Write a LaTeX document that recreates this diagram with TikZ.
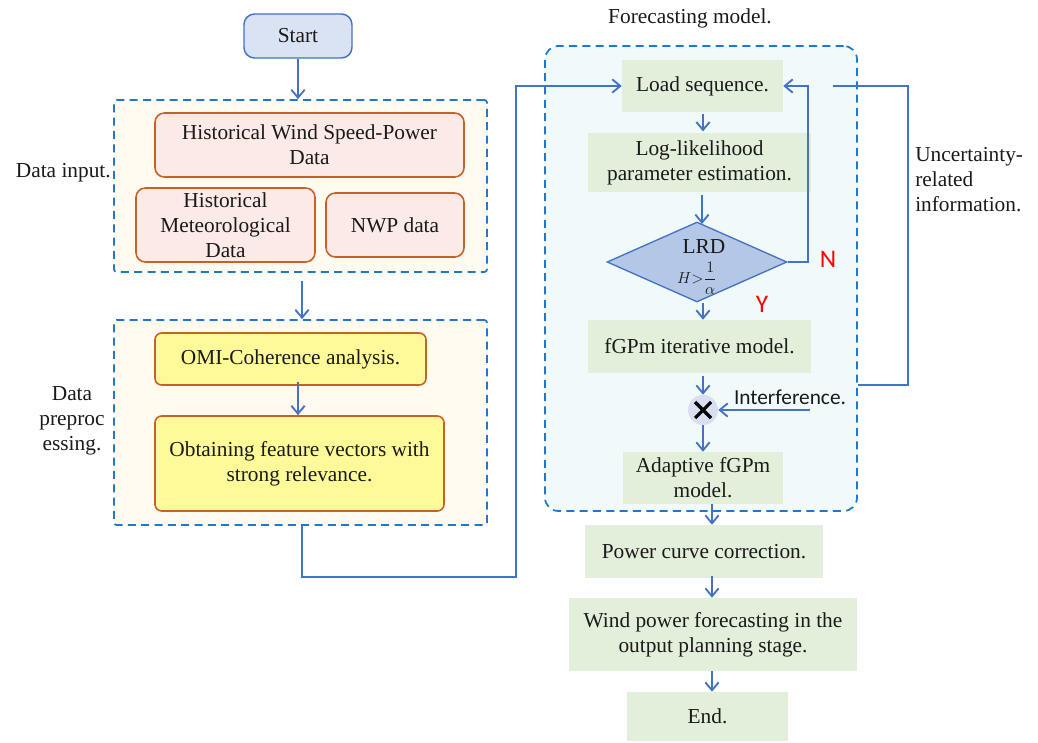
\documentclass[tikz,border=0pt]{standalone}
\usepackage{fontspec}
\setmainfont{Liberation Serif}
\newfontfamily\calfont{Carlito}
\usetikzlibrary{arrows.meta,shapes.geometric,calc}
\definecolor{dashblue}{HTML}{1F77D0}
\definecolor{arrblue}{HTML}{4472C4}
\definecolor{cream}{HTML}{FFFBF1}
\definecolor{paleCyan}{HTML}{F1FAFA}
\definecolor{pinkfill}{HTML}{FBEAE5}
\definecolor{brownedge}{HTML}{C5622A}
\definecolor{yellowfill}{HTML}{FFFA99}
\definecolor{greenfill}{HTML}{E2EFDA}
\definecolor{startfill}{HTML}{DAE3F3}
\definecolor{diafill}{HTML}{B4C7E7}
\definecolor{circfill}{HTML}{D9DFF2}
\definecolor{txt}{HTML}{1A1A1A}
\newcommand\mainsize{\fontsize{16}{18.8}\selectfont}
\begin{document}
\begin{tikzpicture}[x=0.75pt,y=-0.75pt,
  sz/.style 2 args={minimum width=#1*0.75pt, minimum height=#2*0.75pt},
  base/.style={inner sep=0pt, align=center, font=\mainsize, text=txt},
  group/.style={base, draw=dashblue, line width=1.3pt, dash pattern=on 6pt off 4pt},
  inbox/.style={base, rounded corners=7pt, draw=brownedge, line width=1.2pt, fill=pinkfill},
  yelbox/.style={base, rounded corners=5pt, draw=brownedge, line width=1.2pt, fill=yellowfill},
  grbox/.style={base, fill=greenfill},
  arr/.style={draw=arrblue, line width=1.5pt, -{Straight Barb[length=6pt,width=10pt,line width=1.4pt]}},
  link/.style={draw=arrblue, line width=1.5pt},
  side/.style={base, font=\mainsize},
  yesno/.style={font=\calfont\fontsize{19}{22}\selectfont, text=red, inner sep=0pt}
]
\useasboundingbox (0,0) rectangle (1038,742);

% ---- group frames ----
\node[group, rounded corners=2pt, fill=cream, sz={373}{172}] (din) at (300.5,186) {};
\node[group, rounded corners=2pt, fill=cream, sz={373}{205}] (dpre) at (300.5,422.5) {};
\node[group, rounded corners=10pt, fill=paleCyan, sz={312}{465}] (fm) at (701,278.5) {};

% ---- left column ----
\node[base, rounded corners=8pt, draw=arrblue, line width=1.1pt, fill=startfill, sz={108}{44}] (start) at (298,36) {Start};
\node[inbox, sz={309}{64}] (hw) at (309.5,145) {Historical Wind Speed-Power\\Data};
\node[inbox, sz={179}{74}] (hm) at (225.5,225) {Historical\\Meteorological\\Data};
\node[inbox, sz={138}{64}] (nwp) at (395,225) {NWP data};
\node[yelbox, sz={271}{52}] (omi) at (290.5,359) {OMI-Coherence analysis.};
\node[yelbox, sz={289}{95}] (obt) at (299.5,463.5) {Obtaining feature vectors with\\strong relevance.};

\node[side, anchor=east] (lin) at (111,173) {Data input.};
\node[side] (lpre) at (72,421) {Data\\preproc\\essing.};

% ---- forecasting model ----
\node[side] (lfm) at (690,18) {Forecasting model.};
\node[grbox, sz={161}{52}] (load) at (702.5,86) {Load sequence.};
\node[grbox, sz={223}{59}] (loglik) at (699.5,162.5) {Log-likelihood\\parameter estimation.};
\node[diamond, draw=arrblue, line width=1pt, fill=diafill, inner sep=0pt, sz={180}{80}] (lrd) at (697,262) {};
\node[base] (lrdt) at (704,247) {LRD};
\node[base, font=\fontsize{12.5}{14}\selectfont] (lrdh) at (697,278.5) {$H{>}\displaystyle\frac{1}{\alpha}$};
\node[grbox, sz={223}{53}] (fgpm) at (699.5,346.5) {fGPm iterative model.};
\node[circle, fill=circfill, inner sep=0pt, minimum size=22.5pt] (mult) at (703,410) {};
\draw[line width=2.4pt, black] ($(mult.center)+(-8,-8)$) -- ($(mult.center)+(8,8)$)
                               ($(mult.center)+(-8,8)$) -- ($(mult.center)+(8,-8)$);
\node[grbox, sz={160}{52}] (adapt) at (703,478) {Adaptive fGPm\\model.};
\node[grbox, sz={238}{53}] (pcc) at (704,551.5) {Power curve correction.};
\node[grbox, sz={288}{73}] (wpf) at (713,634.5) {Wind power forecasting in the\\output planning stage.};
\node[grbox, sz={161}{49}] (end) at (707.5,716.5) {End.};

\node[yesno] (nlab) at (828,259) {N};
\node[yesno] (ylab) at (762,304) {Y};
\node[base, font=\calfont\fontsize{16}{19}\selectfont] (intf) at (790,397) {Interference.};
\node[side, align=left, anchor=west] (unc) at (915,180) {Uncertainty-\\related\\information.};

% ---- connectors ----
\draw[arr] (start.south) -- (start.south |- din.north);
\draw[arr] ([yshift=-6pt]din.south -| 302,0) -- (dpre.north -| 302,0);
\draw[arr] ([yshift=3pt]omi.south -| 298,0) -- (obt.north -| 298,0);

\coordinate (j1) at (516,577);
\draw[arr] (dpre.south -| 302,0) |- (j1) |- (load.west);

\draw[arr] ([yshift=-1pt]load.south -| 703,0) -- ([yshift=1pt]loglik.north -| 703,0);
\draw[arr] ([yshift=-2pt]loglik.south -| 702,0) -- ([yshift=-2pt]lrd.north -| 702,0);
\coordinate (nl) at (808,262);
\draw[arr] (lrd.east) -- (nl) |- (load.east);
\draw[arr] (lrd.south -| 703,0) -- (fgpm.north -| 703,0);
\draw[arr] ([yshift=-2pt]fgpm.south -| 703,0) -- (mult.north);
\coordinate (i0) at (810,410);
\draw[arr] (i0) -- (mult.east);
\draw[arr] (mult.south) -- (adapt.north);
\draw[arr] (adapt.south -| 712,0) -- (pcc.north -| 712,0);
\draw[arr] ([yshift=2pt]pcc.south -| 712,0) -- (wpf.north -| 712,0);
\draw[arr] (wpf.south -| 712,0) -- (end.north -| 712,0);

\coordinate (u0) at (833,86);
\coordinate (u1) at (908,385);
\draw[link] (u0) -| (u1) -- (fm.east |- u1);
\end{tikzpicture}
\end{document}
